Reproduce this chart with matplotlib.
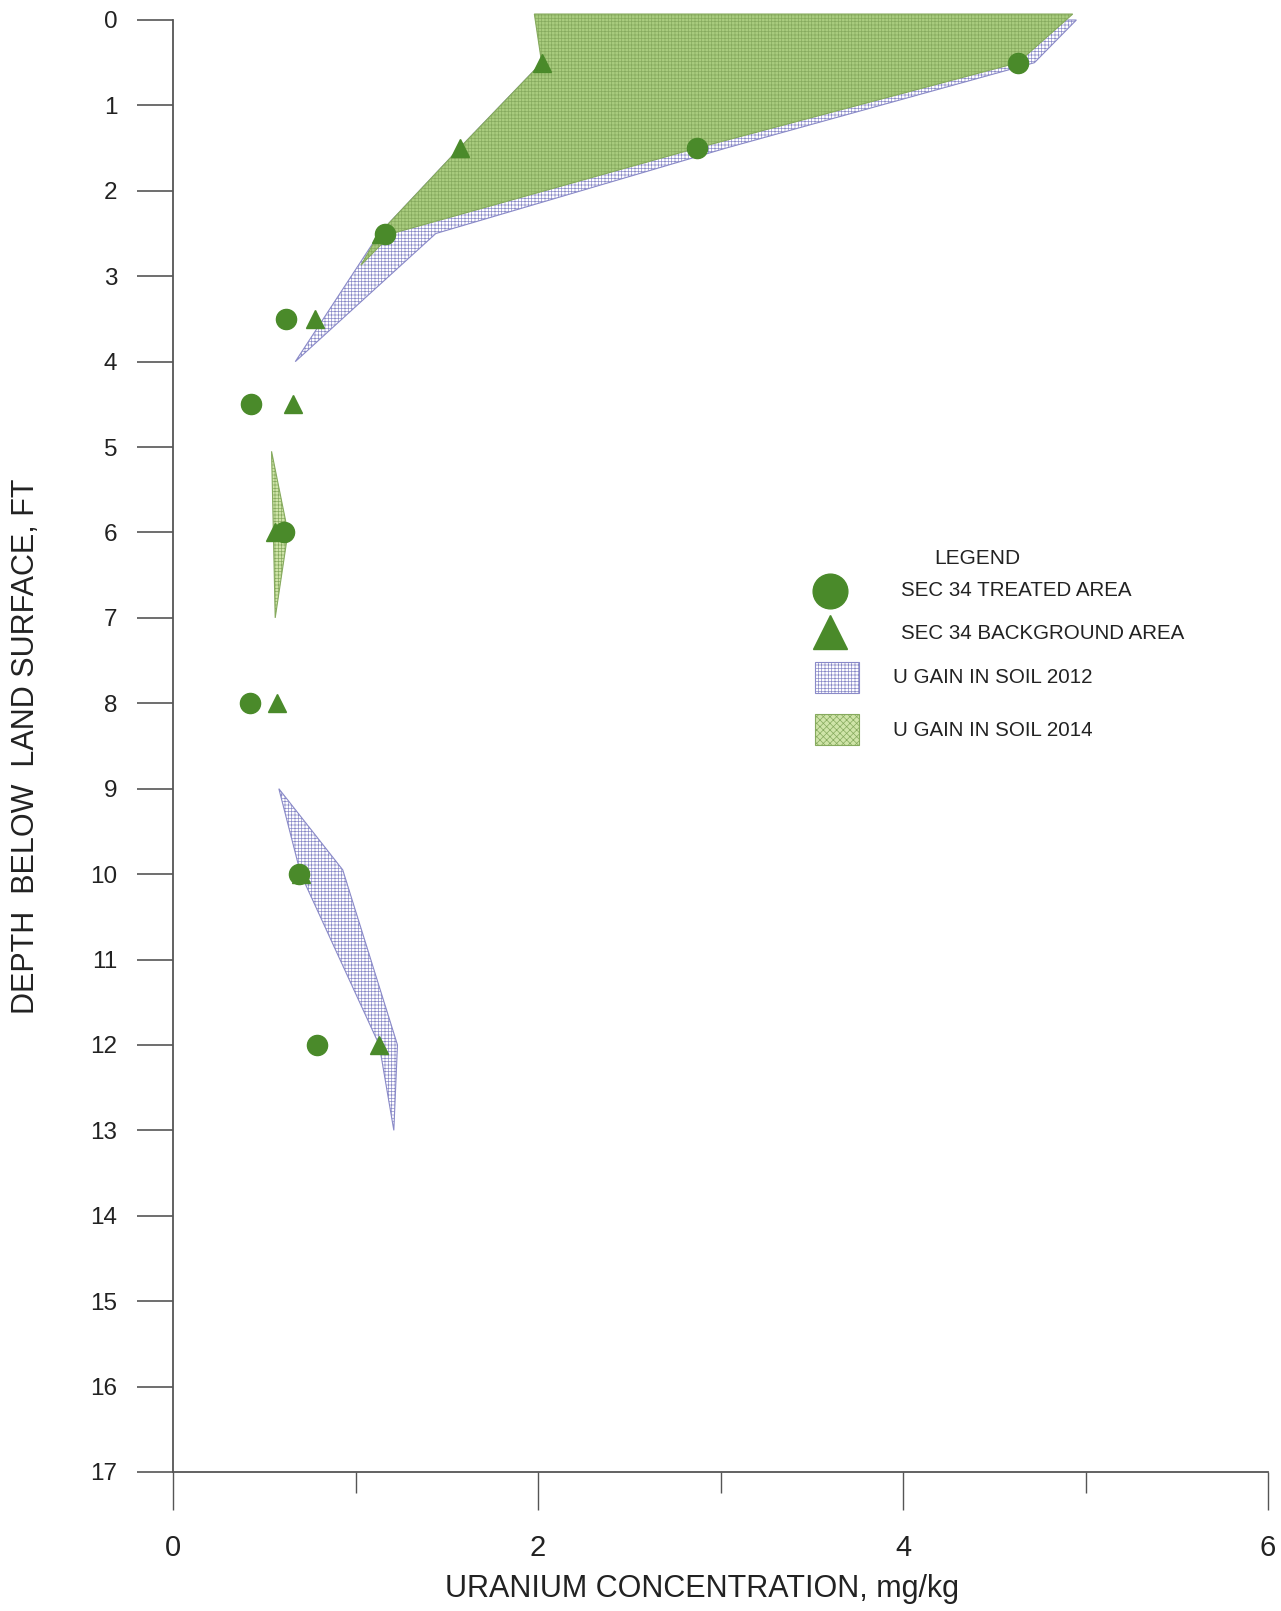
import matplotlib
matplotlib.use('Agg')
import matplotlib.pyplot as plt
import matplotlib.patches as mpatches
from matplotlib.ticker import MultipleLocator

plt.rcParams['font.family'] = ['Liberation Sans', 'DejaVu Sans']
plt.rcParams['hatch.linewidth'] = 0.5

# depth below land surface (ft) for the sampled points
depth = [0.5, 1.5, 2.5, 3.5, 4.5, 6.0, 8.0, 10.0, 12.0]
# uranium concentration, mg/kg
treated = [4.63, 2.87, 1.16, 0.62, 0.43, 0.61, 0.42, 0.69, 0.79]
background = [2.02, 1.57, 1.14, 0.78, 0.66, 0.56, 0.57, 0.70, 1.13]

# U gain in soil 2012 (blue crosshatch) polygons: (conc, depth)
gain2012_top_x = [2.0, 4.95, 4.72, 3.03, 1.44, 0.67, 1.13, 1.57, 2.02]
gain2012_top_y = [0.0, 0.0, 0.5, 1.5, 2.5, 4.0, 2.5, 1.5, 0.5]
gain2012_low_x = [0.58, 0.93, 1.23, 1.21, 1.13, 0.70]
gain2012_low_y = [9.0, 9.95, 12.0, 13.0, 12.0, 10.0]

# U gain in soil 2014 (green) polygons
gain2014_top_x = [1.98, 4.93, 4.63, 2.87, 1.20, 1.03, 1.13, 1.57, 2.02]
gain2014_top_y = [-0.07, -0.07, 0.5, 1.5, 2.5, 2.87, 2.5, 1.5, 0.5]
gain2014_mid_x = [0.54, 0.63, 0.56, 0.55]
gain2014_mid_y = [5.05, 6.0, 7.0, 6.0]

green = '#4a8a2a'
blue_hatch = '#8a8ac8'
green_face = '#a9cc7e'
green_hatch = '#86aa5e'

W, H = 1281, 1611
fig = plt.figure(figsize=(W / 100, H / 100), dpi=100)
ax = fig.add_axes([173 / W, 1 - 1472 / H, 1095 / W, 1452 / H])


def poly(xs, ys, face, hatch, ec, z):
    p = mpatches.Polygon(list(zip(xs, ys)), closed=True, facecolor=face,
                         edgecolor=ec, hatch=hatch, linewidth=0.8, zorder=z,
                         clip_on=False)
    ax.add_patch(p)


poly(gain2012_top_x, gain2012_top_y, 'white', '+++++', blue_hatch, 1)
poly(gain2012_low_x, gain2012_low_y, 'white', '+++++', blue_hatch, 1)
poly(gain2014_top_x, gain2014_top_y, green_face, '+++++', green_hatch, 2)
poly(gain2014_mid_x, gain2014_mid_y, '#cfe4a8', '+++++', green_hatch, 2)

ax.plot(treated, depth, 'o', color=green, markersize=14.5, linestyle='none', zorder=4)
ax.plot(background, depth, '^', color=green, markersize=13, linestyle='none', zorder=3)

ax.set_xlim(0, 6)
ax.set_ylim(17, 0)
ax.spines['top'].set_visible(False)
ax.spines['right'].set_visible(False)
for s in ['left', 'bottom']:
    ax.spines[s].set_color('#555555')
    ax.spines[s].set_linewidth(1.3)

ax.yaxis.set_major_locator(MultipleLocator(1))
ax.xaxis.set_major_locator(MultipleLocator(2))
ax.xaxis.set_minor_locator(MultipleLocator(1))
ax.tick_params(axis='y', length=26, width=1.2, color='#555555', pad=14,
               labelsize=17.5, labelcolor='#222222')
ax.tick_params(axis='x', which='major', length=27, width=1.0, color='#555555',
               pad=18, labelsize=21, labelcolor='#222222')
ax.tick_params(axis='x', which='minor', length=15, width=1.0, color='#555555')

ax.set_xlabel('URANIUM CONCENTRATION, mg/kg', fontsize=22, color='#222222')
ax.set_ylabel('DEPTH  BELOW  LAND SURFACE, FT', fontsize=22, color='#222222')
ax.xaxis.set_label_coords(0.483, -0.070)
ax.yaxis.set_label_coords(-0.121, 0.5)


# legend drawn in figure pixels
def fx(px):
    return px / W


def fy(py):
    return 1 - py / H


fig.text(fx(977), fy(558), 'LEGEND', fontsize=15, ha='center', va='center', color='#222222')
fig.add_artist(plt.Line2D([fx(830)], [fy(591)], marker='o', markersize=25,
                          color=green, linestyle='none'))
fig.add_artist(plt.Line2D([fx(830)], [fy(632)], marker='^', markersize=24,
                          color=green, linestyle='none'))
fig.add_artist(mpatches.Rectangle((fx(815), fy(693)), fx(44), 31 / H,
                                  facecolor='white', edgecolor=blue_hatch,
                                  hatch='+++++', linewidth=0.8,
                                  transform=fig.transFigure))
fig.add_artist(mpatches.Rectangle((fx(815), fy(745)), fx(44), 31 / H,
                                  facecolor='#cfe4a8', edgecolor=green_hatch,
                                  hatch='xxxxx', linewidth=0.8,
                                  transform=fig.transFigure))
labels = ['SEC 34 TREATED AREA', 'SEC 34 BACKGROUND AREA',
          'U GAIN IN SOIL 2012', 'U GAIN IN SOIL 2014']
for lab, lx, ly in zip(labels, [901, 901, 893, 893], [591, 634, 677, 731]):
    fig.text(fx(lx), fy(ly), lab, fontsize=14.8, ha='left', va='center', color='#222222')

fig.savefig('out.png', dpi=100)
